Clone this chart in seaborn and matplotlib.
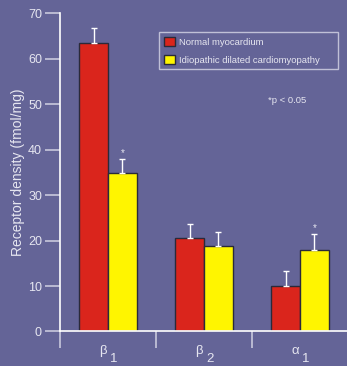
import matplotlib
matplotlib.use("Agg")
import matplotlib.pyplot as plt
import pandas as pd
import seaborn as sns

# Data
receptors = ["β1", "β2", "α1"]
normal = [63.5, 20.6, 9.9]
normal_err = [3.3, 3.1, 3.5]
idcm = [34.8, 18.8, 18.0]
idcm_err = [3.1, 3.0, 3.4]
idcm_signif = [True, False, True]
groups = ["Normal myocardium", "Idiopathic dilated cardiomyopathy"]

bg = "#646497"
fg = "#e6e6f0"

df = pd.DataFrame({
    "receptor": receptors * 2,
    "value": normal + idcm,
    "group": [groups[0]] * 3 + [groups[1]] * 3,
})

sns.set_style("white")
plt.rcParams["font.family"] = ["Liberation Sans", "DejaVu Sans"]

fig = plt.figure(figsize=(3.47, 3.66), dpi=100, facecolor=bg)
ax = fig.add_axes([0.1729, 0.0943, 0.83, 0.8694])
ax.set_facecolor(bg)

sns.barplot(
    data=df, x="receptor", y="value", hue="group", order=receptors,
    hue_order=groups, palette=["#da251c", "#fff500"], saturation=1, width=0.6,
    errorbar=None, edgecolor="#2a2a3a", linewidth=1.0, ax=ax,
)

# one-sided error bars
errs = normal_err + idcm_err
vals = normal + idcm
bars = ax.patches[:6]
xs = [b.get_x() + b.get_width() / 2 for b in bars]
ax.errorbar(xs, vals, yerr=[[0] * 6, errs], fmt="none", ecolor="white",
            elinewidth=1.0, capsize=2.5, capthick=1.0, zorder=1)
for i, sig in enumerate(idcm_signif):
    if sig:
        ax.text(xs[3 + i], idcm[i] + idcm_err[i] + 0.3, "*", color=fg,
                ha="center", va="bottom", fontsize=7)

ax.set_xlim(-0.5, 2.5)
ax.set_ylim(0, 70)
ax.set_yticks(range(0, 71, 10))
ax.set_xticks(range(3))
ax.set_xticklabels([])
ax.set_xticks([-0.5, 0.5, 1.5], minor=True)
ax.tick_params(axis="x", which="major", length=0)
ax.tick_params(axis="x", which="minor", direction="out", length=12, width=1.2,
               color="#c8c8dc", bottom=True)
ax.tick_params(axis="y", direction="out", length=11, width=1.2, color="#c8c8dc",
               labelsize=9, labelcolor=fg, left=True, pad=2)
ax.set_xlabel("")
ax.set_ylabel("Receptor density (fmol/mg)", color=fg, fontsize=10, labelpad=2)

# category labels: greek letter with a large, lowered subscript
xform = ax.get_xaxis_transform()
for i, name in enumerate(receptors):
    ax.annotate(name[0], (i, 0), xycoords=xform, xytext=(-3.5, -10),
                textcoords="offset points", ha="center", va="top",
                color=fg, fontsize=9.5)
    ax.annotate(name[1:], (i, 0), xycoords=xform, xytext=(4, -22.3),
                textcoords="offset points", ha="center", va="baseline",
                color=fg, fontsize=9.5)

for s in ["top", "right"]:
    ax.spines[s].set_visible(False)
ax.spines["left"].set_color("white")
ax.spines["bottom"].set_color("white")
ax.spines["left"].set_linewidth(1.2)
ax.spines["bottom"].set_linewidth(1.2)
ax.spines["bottom"].set_clip_on(False)

leg = ax.legend(loc="upper left", bbox_to_anchor=(0.344, 0.815, 0.622, 0.126),
                mode="expand", fontsize=6.8,
                frameon=True, fancybox=False, edgecolor="#d8d8e8", facecolor="none",
                handlelength=1.15, handleheight=1.15, handletextpad=0.5,
                labelspacing=0.85, borderpad=0.5, borderaxespad=0)
leg.get_frame().set_linewidth(1.0)
for t in leg.get_texts():
    t.set_color(fg)

ax.text(0.79, 0.727, "*p < 0.05", transform=ax.transAxes, color=fg,
        fontsize=6.8, ha="center", va="center")

fig.savefig("out.png", dpi=100, facecolor=bg)
